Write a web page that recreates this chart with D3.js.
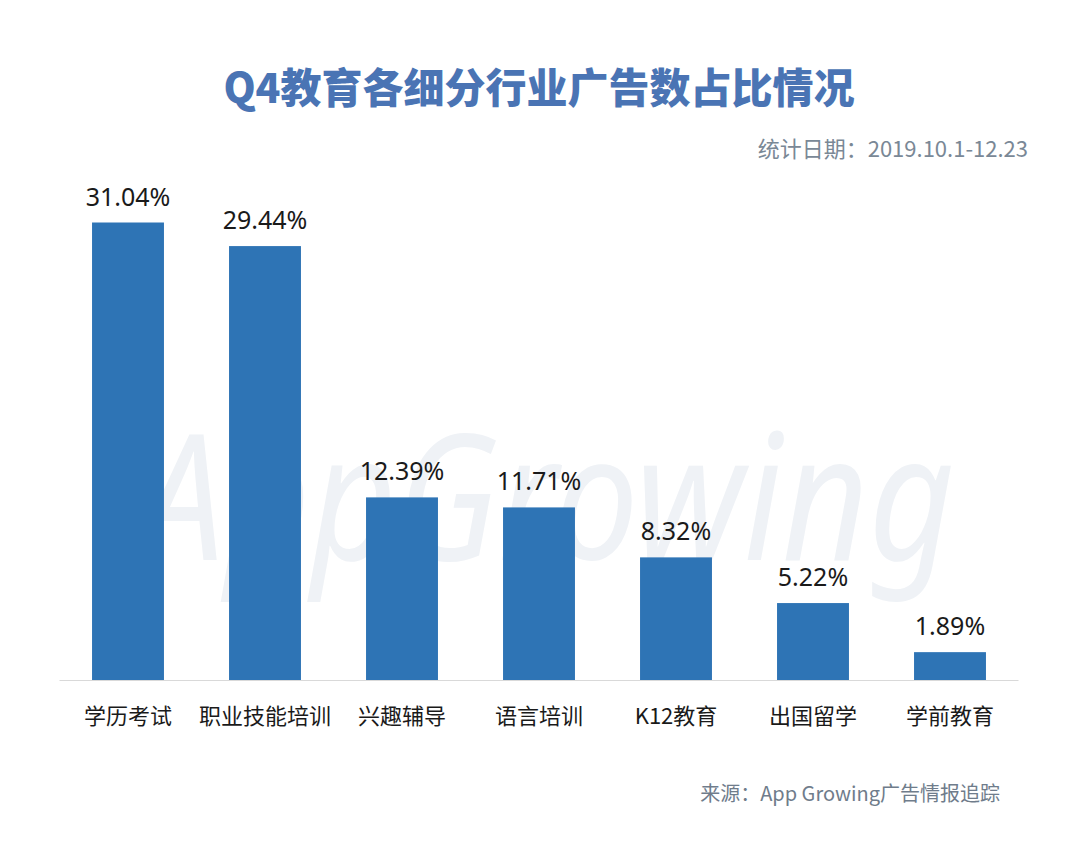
<!DOCTYPE html>
<html>
<head>
<meta charset="utf-8">
<script src="https://cdn.jsdelivr.net/npm/d3@7"></script>
<style>
  html, body { margin: 0; padding: 0; background: #fff; }
  svg { display: block; }
</style>
</head>
<body>
<svg id="chart" width="1080" height="861"></svg>
<script>
'use strict';

var categories = ['学历考试', '职业技能培训', '兴趣辅导', '语言培训', 'K12教育', '出国留学', '学前教育'];
var shares = [31.04, 29.44, 12.39, 11.71, 8.32, 5.22, 1.89];
var titleText = 'Q4教育各细分行业广告数占比情况';
var dateText = '统计日期：2019.10.1-12.23';
var sourceText = '来源：App Growing广告情报追踪';

var svg = d3.select('#chart');
var cjk = '"Noto Sans CJK SC", "Noto Sans", sans-serif';

var x = d3.scaleBand().domain(categories).range([59.5, 1018.5]).paddingInner(0.475).paddingOuter(0.2375);
var y = d3.scaleLinear().domain([0, 31.04]).range([680, 222.5]);

// faint watermark behind the bars
svg.append('text')
  .attr('x', 140).attr('y', 560)
  .attr('textLength', 815)
  .attr('lengthAdjust', 'spacingAndGlyphs')
  .style('font-family', '"Noto Sans", sans-serif')
  .style('font-style', 'italic')
  .style('font-size', '175px')
  .style('fill', '#eff2f6')
  .text('AppGrowing');

svg.append('text')
  .attr('x', 539).attr('y', 103)
  .attr('text-anchor', 'middle')
  .style('font-family', cjk)
  .style('font-weight', 900)
  .style('font-size', '41px')
  .style('fill', '#4a74b4')
  .text(titleText);

svg.append('text')
  .attr('x', 1028).attr('y', 157)
  .attr('text-anchor', 'end')
  .style('font-family', cjk)
  .style('font-size', '22px')
  .style('fill', '#7a8896')
  .text(dateText);

svg.selectAll('rect.bar').data(shares).enter().append('rect')
  .attr('class', 'bar')
  .attr('x', function (d, i) { return x(categories[i]); })
  .attr('y', function (d) { return y(d); })
  .attr('width', x.bandwidth())
  .attr('height', function (d) { return y(0) - y(d); })
  .style('fill', '#2e74b5');

svg.selectAll('text.val').data(shares).enter().append('text')
  .attr('class', 'val')
  .attr('x', function (d, i) { return x(categories[i]) + x.bandwidth() / 2; })
  .attr('y', function (d) { return y(d) - 17; })
  .attr('text-anchor', 'middle')
  .style('font-family', '"Noto Sans", sans-serif')
  .style('font-size', '25px')
  .style('fill', '#1a1a1a')
  .text(function (d) { return d.toFixed(2) + '%'; });

var axis = svg.append('g')
  .attr('transform', 'translate(0,' + y(0) + ')')
  .call(d3.axisBottom(x).tickSize(0).tickPadding(28));
axis.select('.domain').attr('d', 'M59.5,0.5H1018.5').style('stroke', '#d9d9d9');
axis.selectAll('text')
  .style('font-family', cjk)
  .style('font-size', '22px')
  .style('fill', '#1a1a1a');

svg.append('text')
  .attr('x', 1000).attr('y', 801)
  .attr('text-anchor', 'end')
  .style('font-family', cjk)
  .style('font-size', '20px')
  .style('fill', '#6f7c8b')
  .text(sourceText);
</script>
</body>
</html>
